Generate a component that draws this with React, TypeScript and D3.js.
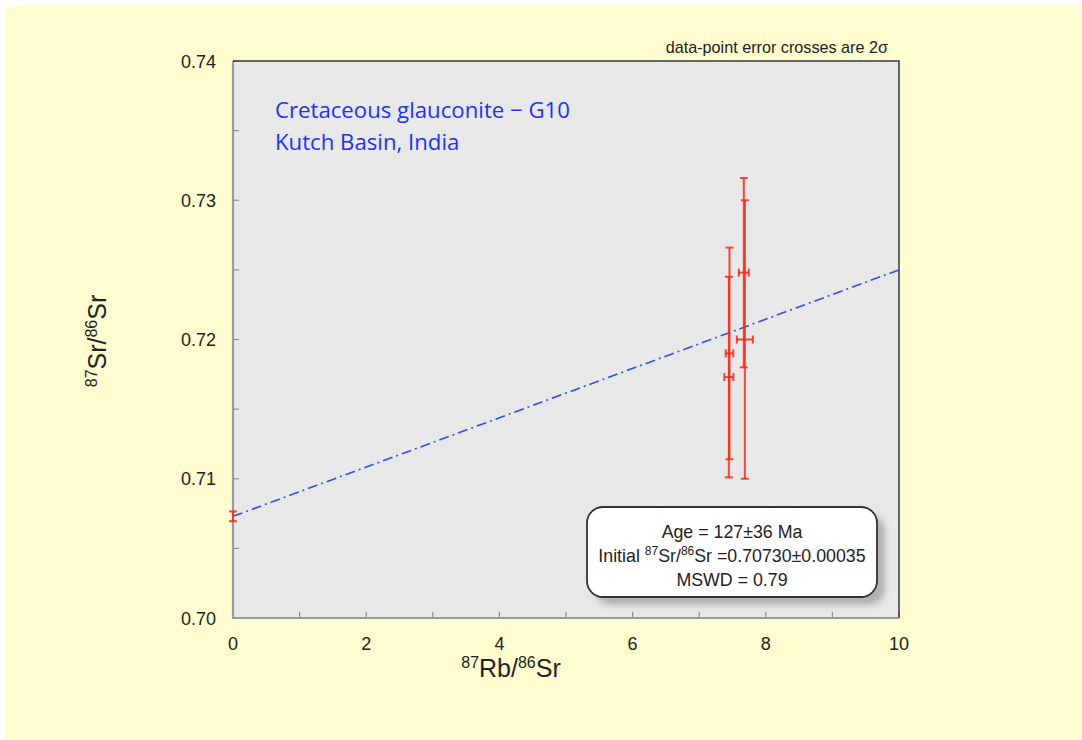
import React, { useEffect, useRef } from "react";
import * as d3 from "d3";

// measured points (87Rb/86Sr, 87Sr/86Sr) with 2-sigma errors
const rbSr = [7.455, 7.445, 7.67, 7.685];
const rbSrErr = [0.057, 0.068, 0.075, 0.12];
const srSr = [0.719, 0.7173, 0.7248, 0.72];
const srSrErr = [0.0076, 0.0072, 0.0068, 0.01];

// isochron fit
const initialRatio = 0.7073;
const initialErr = 0.00035;
const isoSlope = 0.00177;

const xTicksMajor = [0, 2, 4, 6, 8, 10];
const xTicksMinor = [1, 3, 5, 7, 9];
const yTicksMajor = [0.7, 0.71, 0.72, 0.73, 0.74];
const yTicksMinor = [0.705, 0.715, 0.725, 0.735];

const titleLines = ["Cretaceous glauconite \u2212 G10", "Kutch Basin, India"];

const App = () => {
    const svgRef = useRef<SVGSVGElement>(null);

    useEffect(() => {
        const width = 1082;
        const height = 740;
        const margin = { top: 61, right: 183, bottom: 122, left: 233 };
        const arial = "'Liberation Sans', Arial, sans-serif";

        const svg = d3.select(svgRef.current);
        svg.selectAll("*").remove();
        svg.attr("width", width).attr("height", height);

        // yellow page
        svg.append("rect")
            .attr("x", 6).attr("y", 6)
            .attr("width", width - 6).attr("height", height - 6)
            .attr("fill", "#fffccf");

        const xScale = d3.scaleLinear().domain([0, 10]).range([margin.left, width - margin.right]);
        const yScale = d3.scaleLinear().domain([0.7, 0.74]).range([height - margin.bottom, margin.top]);

        const x0 = xScale(0), x1 = xScale(10), y0 = yScale(0.7), y1 = yScale(0.74);

        // plot area
        svg.append("rect")
            .attr("x", x0).attr("y", y1)
            .attr("width", x1 - x0).attr("height", y0 - y1)
            .attr("fill", "#e8e8e8");

        // ticks (inside)
        const tk = svg.append("g").attr("stroke", "#8a8a8a").attr("stroke-width", 1.2);
        [...xTicksMajor, ...xTicksMinor].forEach((t) => {
            tk.append("line").attr("x1", xScale(t)).attr("x2", xScale(t)).attr("y1", y0).attr("y2", y0 - 6);
        });
        [...yTicksMajor, ...yTicksMinor].forEach((t) => {
            tk.append("line").attr("x1", x0).attr("x2", x0 + 6).attr("y1", yScale(t)).attr("y2", yScale(t));
        });

        // frame: grey left/bottom, dark top/right
        svg.append("path")
            .attr("d", `M${x0},${y1} L${x0},${y0} L${x1},${y0}`)
            .attr("fill", "none").attr("stroke", "#9a9a9a").attr("stroke-width", 2.2);
        svg.append("path")
            .attr("d", `M${x0},${y1} L${x1},${y1} L${x1},${y0}`)
            .attr("fill", "none").attr("stroke", "#3a3a3a").attr("stroke-width", 1.5);

        // tick labels
        svg.append("g").selectAll("text")
            .data(xTicksMajor).enter().append("text")
            .attr("x", (d) => xScale(d)).attr("y", y0 + 32)
            .attr("text-anchor", "middle")
            .attr("font-family", arial).attr("font-size", 18).attr("fill", "#222")
            .text((d) => d3.format("d")(d));
        svg.append("g").selectAll("text")
            .data(yTicksMajor).enter().append("text")
            .attr("x", x0 - 17).attr("y", (d) => yScale(d) + 6.5)
            .attr("text-anchor", "end")
            .attr("font-family", arial).attr("font-size", 18).attr("fill", "#222")
            .text((d) => d3.format(".2f")(d));

        // axis titles
        const xt = svg.append("text")
            .attr("x", 511).attr("y", 677)
            .attr("text-anchor", "middle")
            .attr("font-family", arial).attr("font-size", 25).attr("fill", "#222");
        xt.append("tspan").attr("font-size", 16).attr("dy", -9).text("87");
        xt.append("tspan").attr("dy", 9).text("Rb/");
        xt.append("tspan").attr("font-size", 16).attr("dy", -9).text("86");
        xt.append("tspan").attr("dy", 9).text("Sr");

        const yt = svg.append("text")
            .attr("transform", `translate(106, 341) rotate(-90)`)
            .attr("text-anchor", "middle")
            .attr("font-family", arial).attr("font-size", 25).attr("fill", "#222");
        yt.append("tspan").attr("font-size", 16).attr("dy", -9).text("87");
        yt.append("tspan").attr("dy", 9).text("Sr/");
        yt.append("tspan").attr("font-size", 16).attr("dy", -9).text("86");
        yt.append("tspan").attr("dy", 9).text("Sr");

        // isochron line
        svg.append("line")
            .attr("x1", xScale(0)).attr("y1", yScale(initialRatio))
            .attr("x2", xScale(10)).attr("y2", yScale(initialRatio + isoSlope * 10))
            .attr("stroke", "#2d4fe6").attr("stroke-width", 1.6)
            .attr("stroke-dasharray", "10,4,2,4");

        // error crosses
        const red = "#ef2a1f";
        const cap = 4;
        const eb = svg.append("g").attr("stroke", red).attr("stroke-width", 2).attr("stroke-opacity", 0.85);
        const drawCross = (x: number, y: number, ex: number, ey: number) => {
            const cx = xScale(x), cy = yScale(y);
            const yt0 = yScale(y + ey), yb0 = yScale(y - ey);
            eb.append("line").attr("x1", cx).attr("x2", cx).attr("y1", yt0).attr("y2", yb0);
            eb.append("line").attr("x1", cx - cap).attr("x2", cx + cap).attr("y1", yt0).attr("y2", yt0);
            eb.append("line").attr("x1", cx - cap).attr("x2", cx + cap).attr("y1", yb0).attr("y2", yb0);
            if (ex > 0) {
                const xl = xScale(x - ex), xr = xScale(x + ex);
                eb.append("line").attr("x1", xl).attr("x2", xr).attr("y1", cy).attr("y2", cy);
                eb.append("line").attr("x1", xl).attr("x2", xl).attr("y1", cy - cap).attr("y2", cy + cap);
                eb.append("line").attr("x1", xr).attr("x2", xr).attr("y1", cy - cap).attr("y2", cy + cap);
            }
        };
        rbSr.forEach((r, i) => drawCross(r, srSr[i], rbSrErr[i], srSrErr[i]));
        drawCross(0, initialRatio, 0, initialErr);

        // sample title
        svg.append("g").selectAll("text")
            .data(titleLines).enter().append("text")
            .attr("x", 275).attr("y", (_, i) => 118 + i * 32)
            .attr("font-family", "'Open Sans', Lato, sans-serif").attr("font-size", 22.2)
            .attr("fill", "#2233ee")
            .text((d) => d);

        // note
        svg.append("text")
            .attr("x", 888).attr("y", 53)
            .attr("text-anchor", "end")
            .attr("font-family", arial).attr("font-size", 16.2).attr("fill", "#222")
            .text("data-point error crosses are 2\u03c3");

        // stats box
        const defs = svg.append("defs");
        const f = defs.append("filter").attr("id", "blur").attr("x", "-10%").attr("y", "-10%").attr("width", "130%").attr("height", "130%");
        f.append("feGaussianBlur").attr("stdDeviation", 3);
        const bx = 587, by = 507, bw = 290, bh = 90;
        svg.append("rect")
            .attr("x", bx + 8).attr("y", by + 8).attr("width", bw).attr("height", bh)
            .attr("rx", 16).attr("fill", "#9a9a9a").attr("opacity", 0.7)
            .attr("filter", "url(#blur)");
        svg.append("rect")
            .attr("x", bx).attr("y", by).attr("width", bw).attr("height", bh)
            .attr("rx", 16).attr("fill", "#fff").attr("stroke", "#333").attr("stroke-width", 1.8);

        const cx = bx + bw / 2;
        const st = svg.append("g").attr("font-family", arial).attr("font-size", 17.8).attr("fill", "#222").attr("text-anchor", "middle");
        st.append("text").attr("x", cx).attr("y", by + 31).text("Age = 127\u00b136 Ma");
        const l2 = st.append("text").attr("x", cx).attr("y", by + 55);
        l2.append("tspan").text("Initial ");
        l2.append("tspan").attr("font-size", 12).attr("dy", -7).text("87");
        l2.append("tspan").attr("dy", 7).text("Sr/");
        l2.append("tspan").attr("font-size", 12).attr("dy", -7).text("86");
        l2.append("tspan").attr("dy", 7).text("Sr =0.70730\u00b10.00035");
        st.append("text").attr("x", cx).attr("y", by + 79).text("MSWD = 0.79");
    }, []);

    return <svg ref={svgRef} style={{ position: "absolute", left: 0, top: 0 }}></svg>;
};

export default App;
